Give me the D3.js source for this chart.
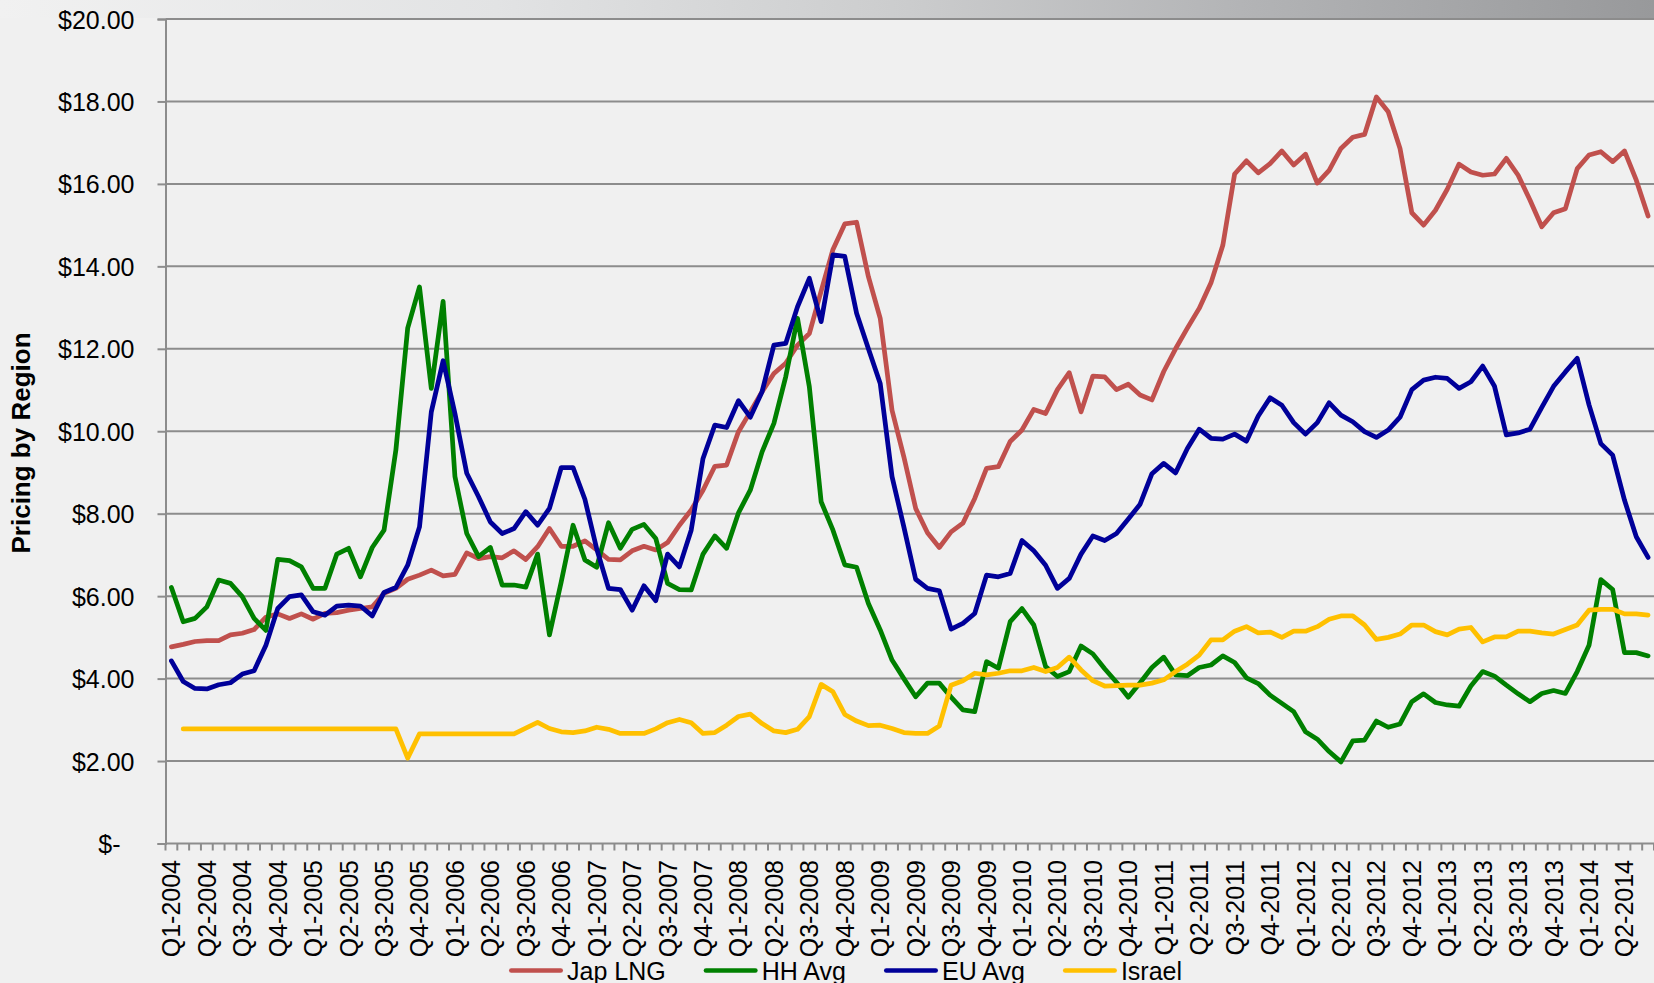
<!DOCTYPE html>
<html><head><meta charset="utf-8">
<script src="https://cdn.jsdelivr.net/npm/d3@7"></script>
<style>
html,body{margin:0;padding:0;background:#f0f0f0;overflow:hidden;}
svg{display:block;}
text{font-family:"Liberation Sans",Arial,Helvetica,sans-serif;fill:#000;}
</style></head><body>
<svg id="chart" width="1654" height="983"></svg>
<script>
// ---------------- DATA ----------------
const quarterLabels = [
 "Q1-2004","Q2-2004","Q3-2004","Q4-2004","Q1-2005","Q2-2005","Q3-2005","Q4-2005",
 "Q1-2006","Q2-2006","Q3-2006","Q4-2006","Q1-2007","Q2-2007","Q3-2007","Q4-2007",
 "Q1-2008","Q2-2008","Q3-2008","Q4-2008","Q1-2009","Q2-2009","Q3-2009","Q4-2009",
 "Q1-2010","Q2-2010","Q3-2010","Q4-2010","Q1-2011","Q2-2011","Q3-2011","Q4-2011",
 "Q1-2012","Q2-2012","Q3-2012","Q4-2012","Q1-2013","Q2-2013","Q3-2013","Q4-2013",
 "Q1-2014","Q2-2014"];

const seriesNames = ["Jap LNG","HH Avg","EU Avg","Israel"];

const japLNG = [
 4.77,4.83,4.90,4.92,4.92,5.06,5.10,5.19,5.49,5.57,5.46,5.57,
 5.44,5.58,5.60,5.66,5.70,5.74,6.07,6.19,6.41,6.51,6.63,6.49,
 6.53,7.05,6.91,6.96,6.93,7.10,6.89,7.20,7.64,7.21,7.21,7.34,
 7.12,6.89,6.88,7.10,7.21,7.12,7.30,7.72,8.09,8.57,9.15,9.18,
 9.99,10.47,10.96,11.40,11.65,12.09,12.37,13.40,14.41,15.03,15.07,13.75,
 12.74,10.51,9.38,8.13,7.54,7.18,7.56,7.77,8.37,9.10,9.14,9.75,
 10.03,10.53,10.43,11.01,11.42,10.47,11.34,11.32,11.01,11.14,10.88,10.76,
 11.45,12.00,12.50,12.98,13.60,14.51,16.24,16.56,16.27,16.49,16.80,16.46,
 16.72,16.02,16.33,16.86,17.13,17.20,18.11,17.75,16.86,15.30,15.00,15.36,
 15.87,16.48,16.29,16.21,16.24,16.62,16.21,15.61,14.96,15.30,15.40,16.37,
 16.70,16.78,16.54,16.80,16.09,15.22];

const hhAvg = [
 6.21,5.38,5.46,5.74,6.39,6.31,5.99,5.46,5.17,6.89,6.86,6.71,
 6.19,6.19,7.02,7.16,6.47,7.18,7.60,9.54,12.50,13.50,11.04,13.15,
 8.90,7.52,6.96,7.18,6.27,6.27,6.22,7.02,5.06,6.35,7.72,6.88,
 6.70,7.78,7.16,7.62,7.74,7.40,6.31,6.16,6.15,7.02,7.46,7.16,
 8.02,8.57,9.50,10.19,11.32,12.74,11.08,8.29,7.60,6.76,6.70,5.82,
 5.18,4.45,4.00,3.56,3.89,3.89,3.55,3.24,3.20,4.41,4.25,5.38,
 5.70,5.30,4.29,4.05,4.17,4.79,4.60,4.24,3.91,3.55,3.90,4.27,
 4.52,4.09,4.07,4.27,4.33,4.55,4.39,4.02,3.88,3.60,3.40,3.20,
 2.71,2.53,2.23,1.98,2.49,2.51,2.97,2.82,2.90,3.44,3.63,3.42,
 3.36,3.33,3.82,4.17,4.06,3.84,3.63,3.44,3.64,3.71,3.64,4.17,
 4.81,6.40,6.16,4.63,4.63,4.55];

const euAvg = [
 4.43,3.93,3.76,3.75,3.85,3.90,4.11,4.19,4.81,5.70,5.99,6.03,
 5.62,5.54,5.76,5.78,5.76,5.52,6.09,6.21,6.75,7.68,10.47,11.71,
 10.43,8.98,8.41,7.80,7.52,7.64,8.05,7.72,8.13,9.12,9.12,8.35,
 7.15,6.19,6.16,5.66,6.25,5.89,7.02,6.71,7.60,9.34,10.15,10.09,
 10.74,10.34,10.96,12.09,12.13,13.02,13.71,12.66,14.28,14.24,12.86,12.00,
 11.16,8.90,7.68,6.41,6.19,6.13,5.20,5.34,5.58,6.51,6.47,6.55,
 7.35,7.10,6.75,6.19,6.43,7.02,7.46,7.35,7.52,7.87,8.23,8.97,
 9.22,8.99,9.58,10.05,9.83,9.81,9.93,9.76,10.37,10.81,10.63,10.21,
 9.93,10.21,10.69,10.39,10.23,9.99,9.85,10.03,10.34,11.01,11.24,11.31,
 11.28,11.04,11.20,11.58,11.09,9.91,9.96,10.05,10.58,11.09,11.44,11.77,
 10.64,9.70,9.42,8.33,7.44,6.94];

const israel = [
 null,2.78,2.78,2.78,2.78,2.78,2.78,2.78,2.78,2.78,2.78,2.78,
 2.78,2.78,2.78,2.78,2.78,2.78,2.78,2.78,2.07,2.66,2.66,2.66,
 2.66,2.66,2.66,2.66,2.66,2.66,2.80,2.94,2.79,2.71,2.69,2.73,
 2.82,2.77,2.67,2.67,2.67,2.78,2.93,3.01,2.93,2.67,2.69,2.87,
 3.08,3.14,2.91,2.73,2.69,2.77,3.08,3.86,3.68,3.13,2.97,2.86,
 2.87,2.79,2.69,2.67,2.67,2.85,3.84,3.95,4.13,4.09,4.13,4.19,
 4.19,4.27,4.17,4.27,4.52,4.21,3.95,3.82,3.83,3.84,3.84,3.89,
 3.97,4.17,4.35,4.57,4.94,4.94,5.15,5.26,5.11,5.13,5.00,5.15,
 5.15,5.26,5.44,5.52,5.52,5.30,4.95,5.00,5.08,5.30,5.30,5.14,
 5.06,5.20,5.24,4.89,5.01,5.01,5.15,5.15,5.11,5.08,5.19,5.30,
 5.66,5.68,5.68,5.57,5.57,5.54];

const yTickValues = [0,2,4,6,8,10,12,14,16,18,20];
const yTickLabels = ["$-","$2.00","$4.00","$6.00","$8.00","$10.00","$12.00","$14.00","$16.00","$18.00","$20.00"];
const yTitle = "Pricing by Region";

// ---------------- LAYOUT ----------------
const W = 1654, H = 983;
const plot = {left:165.5, right:1654, top:19, bottom:843.5};
const colors = ["#C0504D","#008000","#000099","#FFC000"];
const seriesData = [japLNG, hhAvg, euAvg, israel];
const categories = d3.range(japLNG.length);

const svg = d3.select("#chart");

// background + top band
const defs = svg.append("defs");
const grad = defs.append("linearGradient").attr("id","band").attr("x1","0").attr("x2","1").attr("y1","0").attr("y2","0");
[[0,"#f1f1f1"],[0.3,"#e2e3e4"],[0.55,"#cbcccd"],[0.75,"#b3b4b6"],[1,"#98999b"]].forEach(s=>
  grad.append("stop").attr("offset",s[0]).attr("stop-color",s[1]));
svg.append("rect").attr("width",W).attr("height",H).attr("fill","#f0f0f0");
svg.append("rect").attr("x",0).attr("y",0).attr("width",W).attr("height",18).attr("fill","url(#band)");

const x = d3.scaleBand().domain(categories).range([plot.left, plot.right]).padding(0);
const xc = i => x(i) + x.bandwidth()/2;
const y = d3.scaleLinear().domain([0,20]).range([plot.bottom, plot.top]);

// gridlines
svg.append("g").selectAll("line").data(yTickValues.filter(v=>v>0)).join("line")
  .attr("x1",plot.left).attr("x2",plot.right)
  .attr("y1",d=>y(d)).attr("y2",d=>y(d))
  .attr("stroke","#8c8c8c").attr("stroke-width",2);

// y axis
const yAxis = d3.axisLeft(y).tickValues(yTickValues)
  .tickFormat((d,i)=>yTickLabels[i]).tickSize(8).tickPadding(23);
const gy = svg.append("g").attr("transform",`translate(${plot.left},0)`).call(yAxis);
gy.select(".domain").attr("stroke","#8c8c8c").attr("stroke-width",2);
gy.selectAll(".tick line").attr("stroke","#8c8c8c").attr("stroke-width",2);
gy.selectAll(".tick text").attr("font-size",25).attr("font-family",'"Liberation Sans",Arial,sans-serif')
  .attr("fill","#000").attr("dy","0.36em")
  .attr("dx",d=> d===0 ? -14 : 0);

// x axis baseline + ticks at category boundaries
svg.append("line").attr("x1",plot.left).attr("x2",plot.right)
  .attr("y1",plot.bottom).attr("y2",plot.bottom).attr("stroke","#8c8c8c").attr("stroke-width",2);
const boundaries = categories.map(i=>x(i)).concat([x(categories[categories.length-1])+x.bandwidth()]);
svg.append("g").selectAll("line").data(boundaries).join("line")
  .attr("x1",d=>d).attr("x2",d=>d).attr("y1",plot.bottom).attr("y2",plot.bottom+7)
  .attr("stroke","#8c8c8c").attr("stroke-width",2);

// x labels (every quarter)
svg.append("g").selectAll("text").data(quarterLabels).join("text")
  .attr("transform",(d,i)=>`translate(${xc(i*3)+9},860) rotate(-90)`)
  .attr("text-anchor","end").attr("font-size",25).text(d=>d);

// y title
svg.append("text").attr("transform",`translate(30,443) rotate(-90)`)
  .attr("text-anchor","middle").attr("font-size",26).attr("font-weight","bold").text(yTitle);

// series lines
const line = d3.line().defined(d=>d.v!=null).x(d=>xc(d.i)).y(d=>y(d.v));
seriesData.forEach((arr,k)=>{
  svg.append("path").datum(arr.map((v,i)=>({i,v})))
    .attr("d",line).attr("fill","none").attr("stroke",colors[k])
    .attr("stroke-width",4.75).attr("stroke-linejoin","round").attr("stroke-linecap","round");
});

// legend
const lg = svg.append("g");
let lx = 509;
const ly = 970.5;
seriesNames.forEach((name,k)=>{
  lg.append("line").attr("x1",lx+2.3).attr("x2",lx+54-2.3).attr("y1",ly).attr("y2",ly)
    .attr("stroke",colors[k]).attr("stroke-width",4.6).attr("stroke-linecap","round");
  const t = lg.append("text").attr("x",lx+58).attr("y",ly+9).attr("font-size",25).text(name);
  const w = t.node().getComputedTextLength();
  lx = lx + 58 + w + 38;
});
</script>
</body></html>
